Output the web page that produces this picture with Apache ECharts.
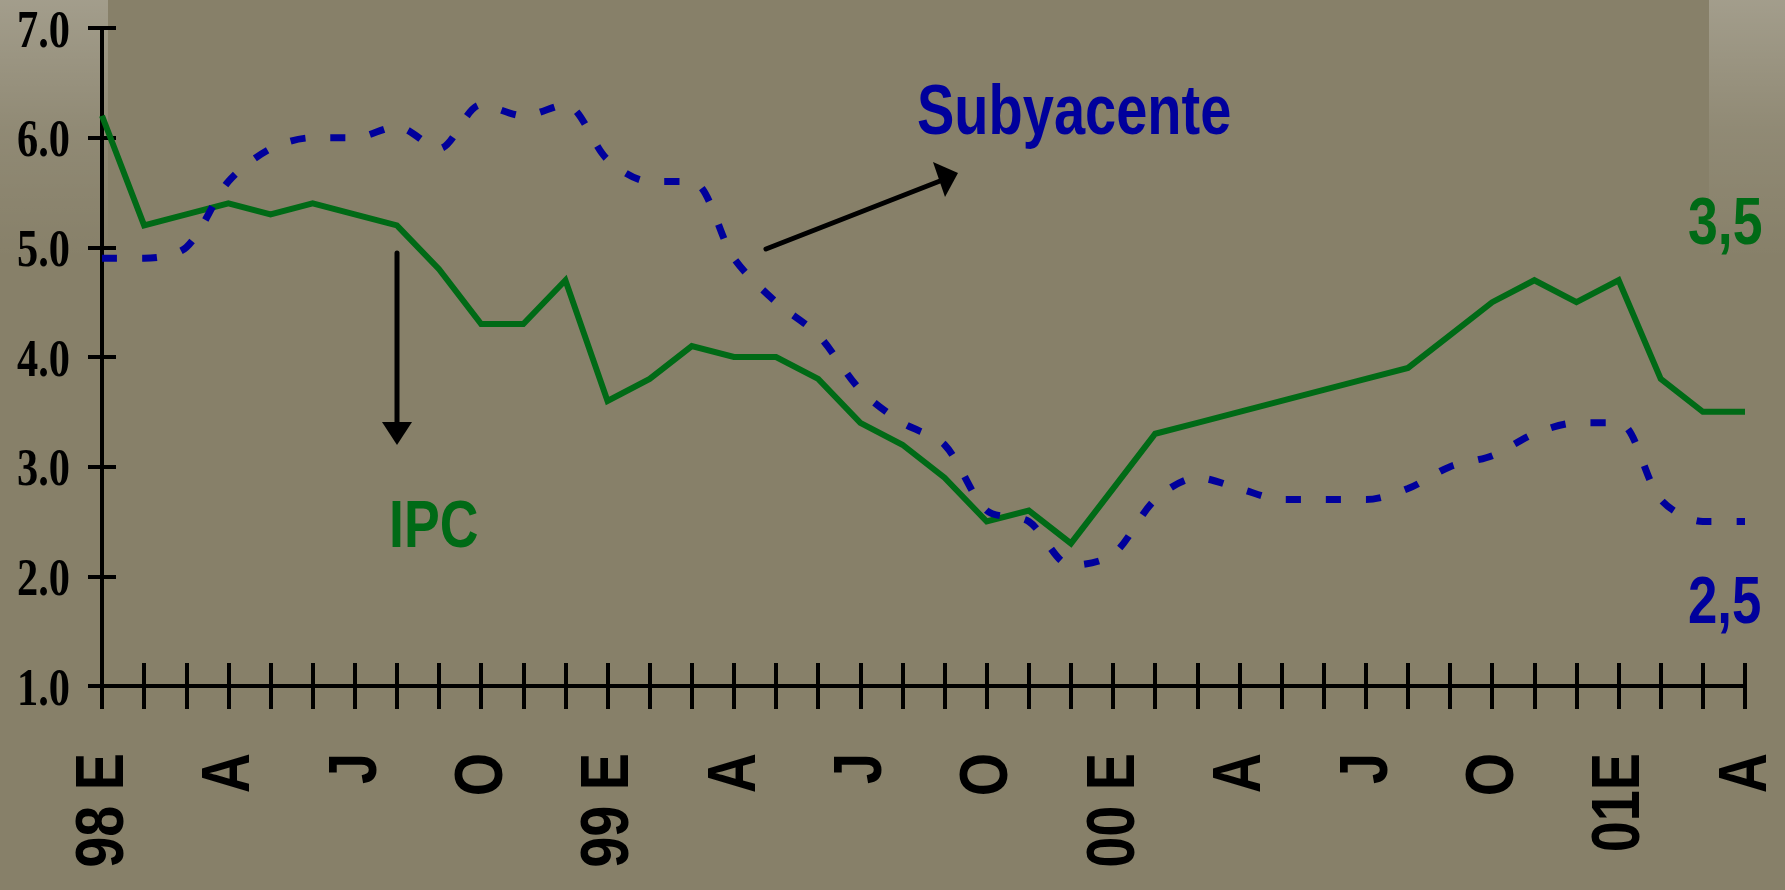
<!DOCTYPE html>
<html><head><meta charset="utf-8">
<script src="https://cdn.jsdelivr.net/npm/echarts@6/dist/echarts.min.js"></script>
<style>html,body{margin:0;padding:0;background:#878069;}#c{width:1785px;height:890px;}</style>
</head><body><div id="c"></div>
<script>
const months = ['98-01','98-02','98-03','98-04','98-05','98-06','98-07','98-08','98-09','98-10','98-11','98-12',
  '99-01','99-02','99-03','99-04','99-05','99-06','99-07','99-08','99-09','99-10','99-11','99-12',
  '00-01','00-02','00-03','00-04','00-05','00-06','00-07','00-08','00-09','00-10','00-11','00-12',
  '01-01','01-02','01-03','01-04'];
const tickLabels = ['98 E','','','A','','','J','','','O','','',
  '99 E','','','A','','','J','','','O','','',
  '00 E','','','A','','','J','','','O','','',
  '01E','','','A'];
const ipc = [6.2,5.2,5.3,5.4,5.3,5.4,5.3,5.2,4.8,4.3,4.3,4.7,
  3.6,3.8,4.1,4.0,4.0,3.8,3.4,3.2,2.9,2.5,2.6,2.3,
  2.8,3.3,3.4,3.5,3.6,3.7,3.8,3.9,4.2,4.5,4.7,4.5,
  4.7,3.8,3.5,3.5];
const subyacente = [4.9,4.9,5.0,5.6,5.9,6.0,6.0,6.1,5.9,6.3,6.2,6.3,
  5.8,5.6,5.6,4.9,4.5,4.2,3.7,3.4,3.2,2.6,2.5,2.1,
  2.2,2.7,2.9,2.8,2.7,2.7,2.7,2.8,3.0,3.1,3.3,3.4,
  3.4,2.7,2.5,2.5];
const yTicks = [1.0, 2.0, 3.0, 4.0, 5.0, 6.0, 7.0];
const yTickLabels = ['1.0','2.0','3.0','4.0','5.0','6.0','7.0'];
const yMin = 1, yMax = 7, yStep = 1;

const GREEN = '#006a16', BLUE = '#00009c';
const SQUEEZE = 0.8;
const chart = echarts.init(document.getElementById('c'));
const axisLineStyle = {color:'#000', width:4};
const tickStyle = {color:'#000', width:4};
const grad = () => new echarts.graphic.LinearGradient(0,0,0,1,[{offset:0,color:'rgba(255,255,255,0.23)'},{offset:0.5,color:'rgba(255,255,255,0.08)'},{offset:1,color:'rgba(255,255,255,0)'}]);
const narrowFont = (px) => 'bold ' + px + 'px "Liberation Sans", Arial, sans-serif';

chart.setOption({
  backgroundColor: '#878069',
  animation: false,
  grid: {left:102, right:40, top:28, bottom:204},
  xAxis: [
    {type:'category', data: months, boundaryGap:false, position:'bottom',
     axisLine:{show:true, lineStyle:axisLineStyle},
     axisTick:{show:true, interval:0, length:23, lineStyle:tickStyle},
     axisLabel:{show:false}, splitLine:{show:false}},
    {type:'category', data: months, boundaryGap:false, position:'bottom',
     axisLine:{show:false},
     axisTick:{show:true, inside:true, interval:0, length:23, lineStyle:tickStyle},
     axisLabel:{show:false}, splitLine:{show:false}}
  ],
  yAxis: [
    {type:'value', min:yMin, max:yMax, interval:yStep, position:'left',
     axisLine:{show:true, lineStyle:axisLineStyle},
     axisTick:{show:true, length:14, lineStyle:tickStyle},
     axisLabel:{show:false}, splitLine:{show:false}},
    {type:'value', min:yMin, max:yMax, interval:yStep, position:'left',
     axisLine:{show:false},
     axisTick:{show:true, inside:true, length:14, lineStyle:tickStyle},
     axisLabel:{show:false}, splitLine:{show:false}}
  ],
  series: [
    {name:'IPC', type:'line', data: ipc, showSymbol:false, symbol:'none',
     lineStyle:{color:GREEN, width:6, join:'miter'}, z:3},
    {name:'Subyacente', type:'line', data: subyacente, showSymbol:false, symbol:'none', smooth:0.3,
     lineStyle:{color:BLUE, width:7, type:[15,25], cap:'butt'}, z:4}
  ]
});

// Tick labels placed through the axes' own scales (condensed lettering as in the original)
const labelGraphics = [];
tickLabels.forEach((t, i) => {
  if (!t) return;
  const px = chart.convertToPixel({xAxisIndex:0}, months[i]);
  const py = chart.convertToPixel({yAxisIndex:0}, yMin);
  labelGraphics.push({type:'text', z:10, x: px + 2, y: py + 67, rotation: Math.PI/2, scaleX: 0.82,
    style:{text:t, fill:'#000', align:'right', verticalAlign:'middle', font: narrowFont(68)}});
});
yTicks.forEach((v, i) => {
  const py = chart.convertToPixel({yAxisIndex:0}, v);
  const px = chart.convertToPixel({xAxisIndex:0}, months[0]);
  labelGraphics.push({type:'text', z:10, x: px - 32, y: py + 5, scaleX: SQUEEZE,
    style:{text:yTickLabels[i], fill:'#000', align:'right', verticalAlign:'middle',
      font:'bold 53px "Liberation Serif", "Times New Roman", serif'}});
});

chart.setOption({
  graphic: [
    {type:'rect', z:-10, silent:true, shape:{x:0,y:0,width:108,height:260}, style:{fill:grad()}},
    {type:'rect', z:-10, silent:true, shape:{x:1709,y:0,width:76,height:260}, style:{fill:grad()}},
    {type:'line', z:10, shape:{x1:397,y1:253,x2:397,y2:428}, style:{stroke:'#000', lineWidth:5, lineCap:'round'}},
    {type:'polygon', z:10, shape:{points:[[382,422],[412,422],[397,445]]}, style:{fill:'#000'}},
    {type:'line', z:10, shape:{x1:766,y1:249,x2:940,y2:181}, style:{stroke:'#000', lineWidth:5, lineCap:'round'}},
    {type:'polygon', z:10, shape:{points:[[933,162],[958,173],[945,197]]}, style:{fill:'#000'}},
    {type:'text', z:10, x:917, y:115, scaleX:SQUEEZE, style:{text:'Subyacente', fill:BLUE, align:'left', verticalAlign:'middle', font:narrowFont(70)}},
    {type:'text', z:10, x:389, y:529, scaleX:SQUEEZE, style:{text:'IPC', fill:GREEN, align:'left', verticalAlign:'middle', font:narrowFont(67)}},
    {type:'text', z:10, x:1688, y:226, scaleX:SQUEEZE, style:{text:'3,5', fill:GREEN, align:'left', verticalAlign:'middle', font:narrowFont(67)}},
    {type:'text', z:10, x:1688, y:605, scaleX:SQUEEZE, style:{text:'2,5', fill:BLUE, align:'left', verticalAlign:'middle', font:narrowFont(66)}}
  ].concat(labelGraphics)
});
</script></body></html>
